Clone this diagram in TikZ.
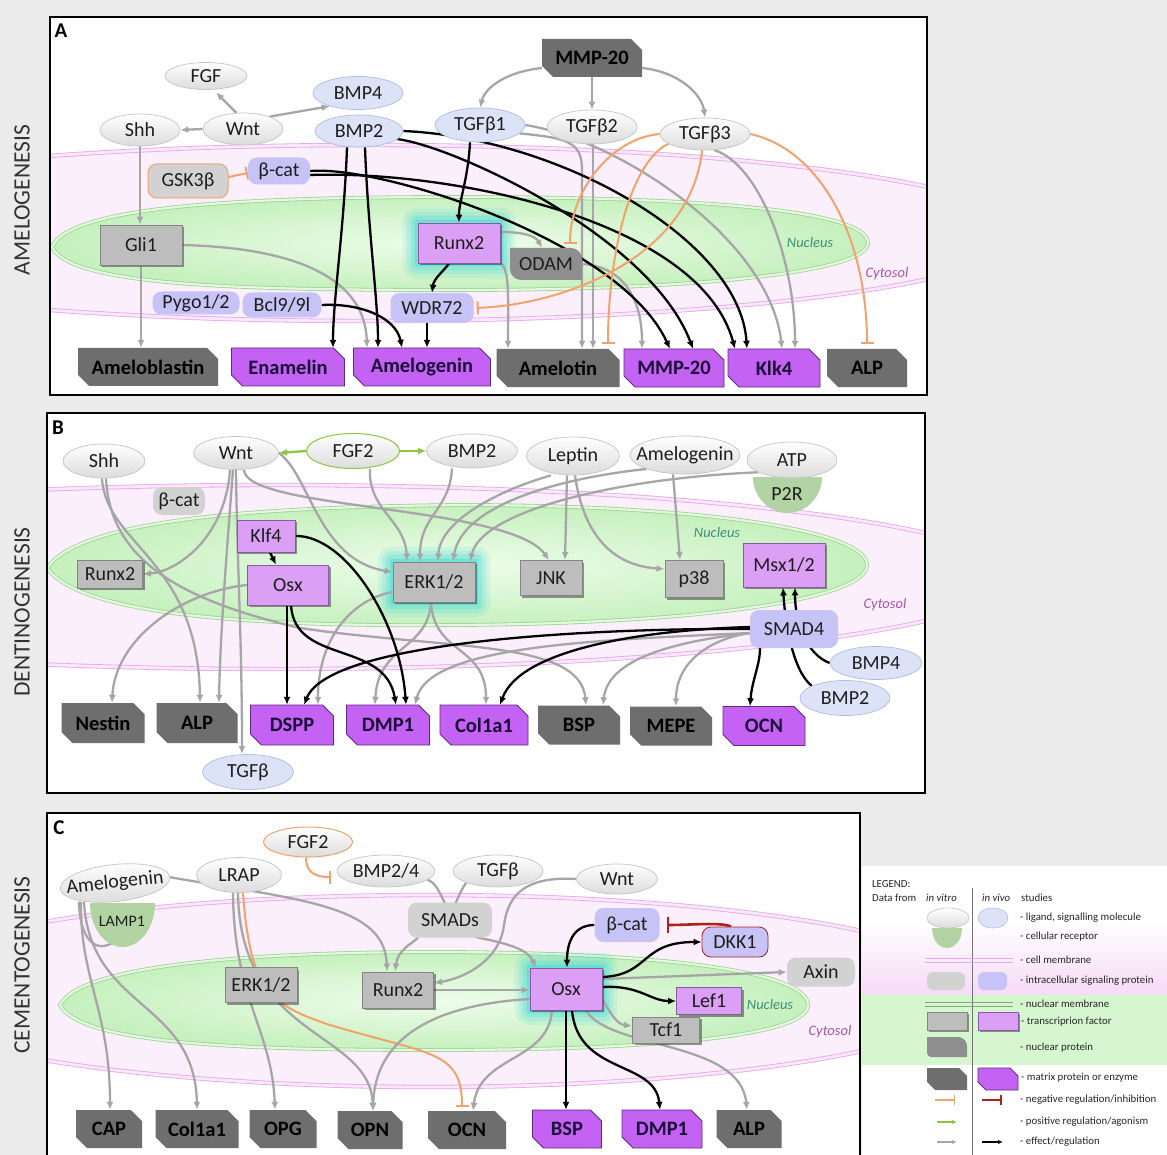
\documentclass[tikz,border=0pt]{standalone}
\usepackage{fontspec}
\setmainfont{Carlito}
\usetikzlibrary{arrows.meta,shadows,shapes.geometric}
\definecolor{bgc}{HTML}{EBEBEB}
\definecolor{txt}{HTML}{1E1E1E}
\definecolor{ligvd}{HTML}{C4C4C4}
\definecolor{ligvf}{HTML}{DCDCDC}
\definecolor{ligbd}{HTML}{AEBBE4}
\definecolor{ligbf}{HTML}{DCE3F7}
\definecolor{isgf}{HTML}{D2D2D2}
\definecolor{isbf}{HTML}{C8C3F6}
\definecolor{tfgd}{HTML}{858585}
\definecolor{tfgf}{HTML}{BDBDBD}
\definecolor{tfpd}{HTML}{8A5AA6}
\definecolor{tfpf}{HTML}{DB9FF5}
\definecolor{mxgf}{HTML}{6E6E6E}
\definecolor{mxpf}{HTML}{C462F4}
\definecolor{mxpd}{HTML}{5E2A7E}
\definecolor{mxtxt}{HTML}{1A0E38}
\definecolor{npf}{HTML}{8E8E8E}
\definecolor{recf}{HTML}{B2D3A2}
\definecolor{cgray}{HTML}{A6A6A6}
\definecolor{corange}{HTML}{F2A26C}
\definecolor{cgreen}{HTML}{8DC63F}
\definecolor{cred}{HTML}{B01E1E}
\definecolor{memline}{HTML}{E3A9EC}
\definecolor{memfill}{HTML}{FCEFFC}
\definecolor{memdbl}{HTML}{FBE6FB}
\definecolor{nucline}{HTML}{9ED494}
\definecolor{nucin}{HTML}{EEFDEB}
\definecolor{nucout}{HTML}{C6F0BE}
\definecolor{nucdbl}{HTML}{E4F8E0}
\definecolor{glowc}{HTML}{30D4D4}
\definecolor{nuctxt}{HTML}{3F8F78}
\definecolor{cyttxt}{HTML}{A455A8}
\definecolor{sidetxt}{HTML}{333333}
\definecolor{lgpink}{HTML}{F6DAF6}
\definecolor{lggreen}{HTML}{D5F6CE}

\pgfdeclarelayer{bg}\pgfdeclarelayer{glow}\pgfdeclarelayer{edges}
\pgfsetlayers{bg,glow,edges,main}

\newcommand\fnA{\fontsize{20}{22}\selectfont}
\newcommand\fnM{\fontsize{20.5}{22}\selectfont\bfseries}
\newcommand\fnL{\fontsize{10.8}{12}\selectfont}
\newcommand\fnI{\fontsize{14.5}{16}\selectfont\itshape}
\newcommand\fnS{\fontsize{16}{18}\selectfont}
\newcommand\fnSide{\fontsize{23.5}{26}\selectfont}
\newcommand\fnP{\fontsize{21}{24}\selectfont\bfseries}

\newcommand\mxshape[6]{\path[#5] (#1-#3/2,#2-#4/2) -- (#1+#3/2-#6,#2-#4/2) -- (#1+#3/2,#2-#4/2+#6) -- (#1+#3/2,#2+#4/2) -- (#1-#3/2+#6,#2+#4/2) -- (#1-#3/2,#2+#4/2-#6) -- cycle;}
\newcommand\mxg[6]{\mxshape{#2}{#3}{#4}{#5}{mxgs}{11}\node[mxlab,text=black,sz={#4}{#5}] (#1) at (#2,#3) {#6};}
\newcommand\mxp[6]{\mxshape{#2}{#3}{#4}{#5}{mxps}{11}\node[mxlab,text=mxtxt,sz={#4}{#5}] (#1) at (#2,#3) {#6};}

\tikzset{
 base/.style={inner sep=0pt, font=\fnA, text=txt},
 sz/.style 2 args={minimum width=#1pt, minimum height=#2pt},
 ligv/.style={base, ellipse, draw=ligvd, line width=0.7pt, top color=white, bottom color=ligvf},
 ligb/.style={base, ellipse, draw=ligbd, line width=0.7pt, fill=ligbf},
 isg/.style={base, rectangle, rounded corners=9pt, fill=isgf},
 isb/.style={base, rectangle, rounded corners=9pt, fill=isbf},
 tfg/.style={base, rectangle, draw=tfgd, line width=0.9pt, fill=tfgf, drop shadow={shadow xshift=2pt, shadow yshift=-2pt, opacity=0.4, fill=black}},
 tfp/.style={base, rectangle, draw=tfpd, line width=0.9pt, fill=tfpf, drop shadow={shadow xshift=2pt, shadow yshift=-2pt, opacity=0.4, fill=black}},
 mxlab/.style={inner sep=0pt, font=\fnM},
 mxgs/.style={fill=mxgf},
 mxps/.style={fill=mxpf, draw=mxpd, line width=0.8pt},
 memst/.style={fill=memfill, draw=memline, line width=0.8pt, double=memdbl, double distance=2.8pt},
 nucst/.style={inner color=nucin, outer color=nucout, draw=nucline, line width=0.8pt, double=nucdbl, double distance=2.2pt},
 g/.style={draw=cgray, line width=2.3pt, -{Latex[length=8pt,width=7pt]}},
 k/.style={draw=black, line width=2.3pt, -{Latex[length=8pt,width=7pt]}},
 gr/.style={draw=cgreen, line width=2.3pt, -{Latex[length=8pt,width=7pt]}},
 o/.style={draw=corange, line width=2pt, -{Bar[width=13pt]}},
 rd/.style={draw=cred, line width=2.6pt, -{Bar[width=16pt]}},
 lgt/.style={inner sep=0pt, font=\fnL, text=black!85, anchor=west},
 nuct/.style={inner sep=0pt, font=\fnI, text=nuctxt},
 cytt/.style={inner sep=0pt, font=\fnI, text=cyttxt},
}

\begin{document}
\begin{tikzpicture}[x=1pt,y=-1pt]
\useasboundingbox (0,0) rectangle (1167,1155);

% ================= BACKGROUND =================
\begin{pgfonlayer}{bg}
\fill[bgc] (0,0) rectangle (1167,1155);
% panel A
\fill[white] (50,17) rectangle (927,395);
\begin{scope}
\clip (50,17) rectangle (927,395);
\path[memst] (368,233) ellipse [x radius=657pt, y radius=88pt];
\path[nucst] (52,247) .. controls (70,205) and (250,197) .. (460,197) .. controls (700,197) and (868,210) .. (868,243) .. controls (868,272) and (700,290) .. (460,290) .. controls (250,290) and (70,287) .. (52,247) -- cycle;
\end{scope}
\draw[line width=1.6pt] (50,17) rectangle (927,395);
% panel B
\fill[white] (47,413) rectangle (925,793);
\begin{scope}
\clip (47,413) rectangle (925,793);
\path[memst] (275,577) ellipse [x radius=740pt, y radius=92pt];
\path[nucst] (47,568) .. controls (80,520) and (250,507) .. (460,505) .. controls (700,505) and (867,530) .. (867,565) .. controls (867,597) and (720,623) .. (460,625) .. controls (250,627) and (80,615) .. (47,568) -- cycle;
\end{scope}
\draw[line width=1.6pt] (47,413) rectangle (925,793);
% panel C
\fill[white] (47,813) rectangle (860,1170);
\begin{scope}
\clip (47,813) rectangle (860,1170);
\path[memst] (429,991) ellipse [x radius=554pt, y radius=96pt];
\path[nucst] (60,1005) .. controls (80,965) and (250,952) .. (434,952) .. controls (650,952) and (808,970) .. (808,1005) .. controls (808,1037) and (650,1050) .. (434,1050) .. controls (250,1050) and (80,1045) .. (60,1005) -- cycle;
\end{scope}
\draw[line width=1.6pt] (47,813) rectangle (860,1170);
% legend background
\fill[white] (862,866) rectangle (1167,1155);
\shade[top color=white, bottom color=lgpink] (862,922) rectangle (1167,995);
\fill[lggreen] (862,995) rectangle (1167,1065);
\end{pgfonlayer}

% ================= LABELS =================
\node[rotate=90, font=\fnSide, text=sidetxt, inner sep=0pt] (sideA) at (22,200) {AMELOGENESIS};
\node[rotate=90, font=\fnSide, text=sidetxt, inner sep=0pt] (sideB) at (22,612) {DENTINOGENESIS};
\node[rotate=90, font=\fnSide, text=sidetxt, inner sep=0pt] (sideC) at (22,965) {CEMENTOGENESIS};
\node[font=\fnP, inner sep=0pt] (labA) at (61,31) {A};
\node[font=\fnP, inner sep=0pt] (labB) at (58,428) {B};
\node[font=\fnP, inner sep=0pt] (labC) at (59,828) {C};
\node[nuct] (nucA) at (810,243) {Nucleus};
\node[cytt] (cytA) at (887,274) {Cytosol};
\node[nuct] (nucB) at (717,533) {Nucleus};
\node[cytt] (cytB) at (885,605) {Cytosol};
\node[nuct] (nucC) at (770,1005) {Nucleus};
\node[cytt] (cytC) at (830,1032) {Cytosol};

% ================= PANEL A NODES =================
\node[ligv, sz={82}{27}] (FGF) at (206,76) {FGF};
\node[ligv, sz={80}{32}] (Shh) at (140,130) {Shh};
\node[ligv, sz={80}{32}] (Wnt) at (243,129) {Wnt};
\node[ligb, sz={90}{33}] (BMP4) at (358,93) {BMP4};
\node[ligb, sz={88}{32}] (BMP2) at (359,131) {BMP2};
\node[ligb, sz={90}{34}] (TGFb1) at (480,125) {TGFβ1};
\mxg{MMP20t}{592}{58}{100}{38}{MMP-20}
\node[ligv, sz={90}{34}] (TGFb2) at (592,127) {TGFβ2};
\node[ligv, sz={90}{32}] (TGFb3) at (705,134) {TGFβ3};
\node[isb, sz={62}{27}] (bcatA) at (279,171) {β-cat};
\node[isg, sz={80}{34}, draw=corange, line width=1pt] (GSK) at (188,181) {GSK3β};
\node[tfg, sz={82}{40}] (Gli1) at (141,245) {Gli1};
\node[tfp, sz={82}{40}] (RunxA) at (459,243) {Runx2};
\path[fill=npf] (510,248) -- (571,248) .. controls (577,248) and (582,253) .. (582,259) -- (582,280) -- (521,280) .. controls (515,280) and (510,275) .. (510,269) -- cycle;
\node[base, sz={72}{32}] (ODAM) at (546,264) {ODAM};
\node[isb, sz={87}{23}] (Pygo) at (196,303) {Pygo1/2};
\node[isb, sz={79}{25}] (Bcl) at (282,305) {Bcl9/9l};
\node[isb, sz={83}{30}] (WDR72) at (432,308) {WDR72};
\mxg{Ameloblastin}{148}{367}{140}{38}{Ameloblastin}
\mxp{Enamelin}{288}{367}{113}{38}{Enamelin}
\mxp{AmelogeninA}{422}{367}{137}{38}{Amelogenin}
\mxg{Amelotin}{558}{368}{123}{38}{Amelotin}
\mxp{MMP20}{674}{368}{100}{38}{MMP-20}
\mxp{Klk4}{774}{368}{92}{38}{Klk4}
\mxg{ALPA}{867}{368}{80}{38}{ALP}

% ================= PANEL B NODES =================
\node[ligv, sz={82}{34}] (ShhB) at (104,461) {Shh};
\node[ligv, sz={85}{33}] (WntB) at (236,453) {Wnt};
\node[ligv, sz={93}{35}, draw=cgreen, line width=1pt] (FGF2B) at (353,451) {FGF2};
\node[ligv, sz={91}{34}] (BMP2B) at (472,451) {BMP2};
\node[ligv, sz={93}{38}] (Leptin) at (573,456) {Leptin};
\node[ligv, sz={110}{38}, inner xsep=-14pt] (AmelB) at (685,455) {Amelogenin};
\path[fill=recf] (753,477) -- (822,477) .. controls (822,497) and (806,513) .. (787.5,513) .. controls (769,513) and (753,497) .. (753,477) -- cycle;
\node[ligv, sz={90}{36}] (ATP) at (792,460) {ATP};
\node[base] (P2R) at (787,494) {P2R};
\node[isg, sz={52}{28}] (bcatB) at (179,501) {β-cat};
\node[tfp, sz={58}{32}] (Klf4) at (266,536) {Klf4};
\node[tfp, sz={81}{40}] (OsxB) at (288,585) {Osx};
\node[tfg, sz={65}{28}] (RunxB) at (110,574) {Runx2};
\node[tfg, sz={82}{40}] (ERKB) at (434,582) {ERK1/2};
\node[tfg, sz={62}{35}] (JNK) at (551,578) {JNK};
\node[tfg, sz={58}{37}] (p38) at (694,579) {p38};
\node[tfp, sz={82}{44}] (Msx) at (784,565) {Msx1/2};
\node[isb, sz={88}{38}] (SMAD4) at (794,629) {SMAD4};
\node[ligb, sz={92}{33}] (BMP4B) at (876,663) {BMP4};
\node[ligb, sz={90}{35}] (BMP2Bv) at (845,698) {BMP2};
\mxg{Nestin}{103}{723}{83}{40}{Nestin}
\mxg{ALPB}{197}{723}{81}{40}{ALP}
\mxp{DSPP}{292}{725}{83}{40}{DSPP}
\mxp{DMP1B}{388}{725}{83}{40}{DMP1}
\mxp{Col1a1B}{484}{725}{88}{40}{Col1a1}
\mxg{BSPB}{579}{725}{82}{39}{BSP}
\mxg{MEPE}{671}{726}{82}{39}{MEPE}
\mxp{OCNB}{764}{726}{82}{39}{OCN}
\node[ligb, sz={91}{35}] (TGFbB) at (248,772) {TGFβ};

% ================= PANEL C NODES =================
\node[ligv, sz={89}{30}, draw=corange, line width=1pt] (FGF2C) at (308,842) {FGF2};
\path[fill=recf] (90,903) -- (155,903) .. controls (155,928) and (140,947) .. (122.5,947) .. controls (105,947) and (90,928) .. (90,903) -- cycle;
\node[base, font=\fnS] (LAMP1) at (122,921) {LAMP1};
\node[ligv, sz={110}{37}, inner xsep=-14pt, rotate=6] (AmelC) at (115,883) {Amelogenin};
\node[ligv, sz={85}{35}] (LRAP) at (239,875) {LRAP};
\node[ligv, sz={98}{32}] (BMP24) at (386,871) {BMP2/4};
\node[ligv, sz={90}{32}] (TGFbC) at (498,871) {TGFβ};
\node[ligv, sz={81}{30}] (WntC) at (617,879) {Wnt};
\node[isg, sz={84}{35}] (SMADs) at (450,920) {SMADs};
\node[isb, sz={65}{34}] (bcatC) at (627,925) {β-cat};
\node[isb, sz={66}{30}, draw=cred, line width=0.8pt] (DKK1) at (735,942) {DKK1};
\node[tfg, sz={72}{35}] (ERKC) at (261,985) {ERK1/2};
\node[tfg, sz={71}{36}] (RunxC) at (398,990) {Runx2};
\node[tfp, sz={72}{42}] (OsxC) at (566,989) {Osx};
\node[isg, sz={68}{29}] (Axin) at (821,972) {Axin};
\node[tfp, sz={65}{27}] (Lef1) at (709,1001) {Lef1};
\node[tfg, sz={67}{26}] (Tcf1) at (666,1030) {Tcf1};
\mxg{CAP}{109}{1129}{66}{38}{CAP}
\mxg{Col1a1C}{197}{1129}{83}{38}{Col1a1}
\mxg{OPG}{283}{1129}{67}{38}{OPG}
\mxg{OPN}{370}{1130}{65}{38}{OPN}
\mxg{OCNC}{467}{1130}{78}{38}{OCN}
\mxp{BSPC}{567}{1129}{69}{38}{BSP}
\mxp{DMP1C}{662}{1129}{80}{38}{DMP1}
\mxg{ALPC}{749}{1129}{65}{38}{ALP}

% ================= GLOW =================
\begin{pgfonlayer}{glow}
\foreach \nn in {RunxA,ERKB,OsxC}{
 \foreach \s/\op in {15/0.12,11/0.16,7/0.22,3/0.35}{
  \fill[glowc, opacity=\op, rounded corners=\s pt] ([shift={(-\s pt,-\s pt)}]\nn.south west) rectangle ([shift={(\s pt,\s pt)}]\nn.north east);
 }}
\end{pgfonlayer}

% ================= EDGES =================
\begin{pgfonlayer}{edges}
% ---- panel A gray
\draw[g, shorten >=4pt] (Wnt.112) -- (FGF.-62);
\draw[g] (Wnt.west) -- (Shh.east);
\draw[g] (Wnt.25) -- (BMP4.205);
\draw[g] ([yshift=-10pt]MMP20t.west) .. controls (505,72) and (485,88) .. (TGFb1.north);
\draw[g] (MMP20t.south) -- (TGFb2.north);
\draw[g] ([yshift=-10pt]MMP20t.east) .. controls (680,72) and (702,95) .. (TGFb3.north);
\draw[g] (Shh.south) -- (Shh.south |- Gli1.north);
\draw[g] (Gli1.south) -- (Gli1.south |- Ameloblastin.north);
\draw[g] (Gli1.east) .. controls (300,248) and (365,280) .. ([xshift=-55pt]AmelogeninA.north);
\draw[g] (RunxA.15) .. controls (520,232) and (535,235) .. ([xshift=-4pt]ODAM.north);
\draw[g] (RunxA.-25) .. controls (510,270) and (508,300) .. ([xshift=-50pt]Amelotin.north);
\draw[g] (TGFb1.-12) .. controls (568,138) and (582,142) .. (582,170) -- ([xshift=24pt]Amelotin.north);
\draw[g] ([xshift=1pt]TGFb2.south) -- ([xshift=35pt]Amelotin.north);
\draw[g] (ODAM.east) .. controls (620,266) and (642,295) .. ([xshift=-32pt]MMP20.north);
\draw[g] (TGFb1.east) .. controls (620,140) and (770,240) .. ([xshift=8pt]Klk4.north);
\draw[g] (TGFb3.-60) .. controls (760,165) and (795,260) .. ([xshift=21pt]Klk4.north);
% ---- panel A black
\draw[k] ([xshift=-12pt]BMP2.south) .. controls (344,230) and (333,300) .. ([xshift=45pt]Enamelin.north);
\draw[k] ([xshift=6pt]BMP2.south) .. controls (368,230) and (378,300) .. ([xshift=-44pt]AmelogeninA.north);
\draw[k] (BMP2.east) .. controls (560,138) and (740,240) .. ([xshift=-27pt]Klk4.north);
\draw[k] (BMP2.-12) .. controls (450,145) and (650,235) .. ([xshift=19pt]MMP20.north);
\draw[k] (bcatA.east) .. controls (380,165) and (620,240) .. ([xshift=-4pt]MMP20.north);
\draw[k] ([yshift=-4pt]bcatA.east) .. controls (450,170) and (700,220) .. ([xshift=-39pt]Klk4.north);
\draw[k] ([xshift=-10pt]TGFb1.south) .. controls (468,180) and (459,200) .. (RunxA.north);
\draw[k] ([xshift=-10pt]RunxA.south) .. controls (443,272) and (434,278) .. (WDR72.north);
\draw[k] ([xshift=-5pt]WDR72.south) -- ([xshift=5pt]AmelogeninA.north);
\draw[k] (Bcl.east) .. controls (362,303) and (396,318) .. ([xshift=-20pt]AmelogeninA.north);
% ---- panel A orange
\draw[o] ([yshift=4pt]GSK.east) -- ([yshift=-2pt]bcatA.west);
\draw[o, shorten >=4pt] (TGFb3.west) .. controls (612,138) and (570,190) .. ([xshift=24pt]ODAM.north);
\draw[o, shorten >=5pt] (TGFb3.195) .. controls (632,160) and (608,250) .. ([xshift=50pt]Amelotin.north);
\draw[o, shorten >=3pt] (TGFb3.-100) .. controls (690,260) and (560,305) .. (WDR72.east);
\draw[o, shorten >=5pt] (TGFb3.east) .. controls (822,150) and (867,240) .. (ALPA.north);

% ---- panel B green
\draw[gr] (FGF2B.west) -- (WntB.east);
\draw[gr] (FGF2B.east) -- (BMP2B.west);
% ---- panel B gray
\draw[g] ([xshift=-2pt]ShhB.south) .. controls (106,545) and (198,560) .. ([xshift=3pt]ALPB.north);
\draw[g] ([xshift=2pt]ShhB.south) .. controls (110,560) and (180,600) .. (300,628) .. controls (450,650) and (580,640) .. ([xshift=7pt]BSPB.north);
\draw[g] ([xshift=-6pt]WntB.south) .. controls (225,540) and (175,572) .. (RunxB.east);
\draw[g] ([xshift=-3pt]WntB.south) .. controls (226,560) and (220,640) .. ([xshift=22pt]ALPB.north);
\draw[g] (WntB.south) .. controls (237,560) and (242,640) .. ([xshift=-6pt]TGFbB.north);
\draw[g] (WntB.east) .. controls (310,475) and (318,560) .. ([yshift=10pt]ERKB.west);
\draw[g] ([xshift=8pt]WntB.south) .. controls (245,510) and (510,505) .. ([xshift=-2pt]JNK.north);
\draw[g] ([xshift=17pt]FGF2B.south) .. controls (368,510) and (405,520) .. ([xshift=-27pt]ERKB.north);
\draw[g] ([xshift=-20pt]BMP2B.south) .. controls (450,510) and (420,515) .. ([xshift=-14pt]ERKB.north);
\draw[g] ([xshift=-22pt]Leptin.south) .. controls (500,490) and (440,520) .. ([xshift=4pt]ERKB.north);
\draw[g] (AmelB.200) .. controls (560,478) and (462,505) .. ([xshift=19pt]ERKB.north);
\draw[g] (ATP.200) .. controls (620,478) and (482,510) .. ([xshift=36pt]ERKB.north);
\draw[g] ([xshift=-6pt]Leptin.south) -- ([xshift=14pt]JNK.north);
\draw[g] ([xshift=2pt]Leptin.south) .. controls (582,525) and (605,565) .. ([yshift=10pt]p38.west);
\draw[g] ([xshift=-12pt]AmelB.south) -- ([xshift=-14pt]p38.north);
\draw[g] (OsxB.west) .. controls (180,592) and (115,640) .. ([xshift=9pt]Nestin.north);
\draw[g] ([yshift=-10pt]ERKB.west) .. controls (350,600) and (318,640) .. ([xshift=26pt]DSPP.north);
\draw[g] ([xshift=-3pt]ERKB.south) .. controls (428,650) and (378,645) .. ([xshift=-13pt]DMP1B.north);
\draw[g] ([xshift=-3pt]ERKB.south) .. controls (434,655) and (486,645) .. ([xshift=2pt]Col1a1B.north);
\draw[g] ([yshift=-4pt]SMAD4.west) .. controls (600,640) and (430,645) .. ([xshift=27pt]DMP1B.north);
\draw[g] ([yshift=-4pt]SMAD4.west) .. controls (670,642) and (608,660) .. ([xshift=24pt]BSPB.north);
\draw[g] ([yshift=-4pt]SMAD4.west) .. controls (705,640) and (676,665) .. ([xshift=5pt]MEPE.north);
% ---- panel B black
\draw[k] ([xshift=4pt]Klf4.south) -- ([xshift=-12pt]OsxB.north);
\draw[k] (Klf4.east) .. controls (345,535) and (400,620) .. ([xshift=18pt]DMP1B.north);
\draw[k] ([xshift=-1pt]OsxB.south) -- ([xshift=-5pt]DSPP.north);
\draw[k] ([xshift=3pt]OsxB.south) .. controls (295,665) and (385,640) .. ([xshift=8pt]DMP1B.north);
\draw[k] (SMAD4.west) .. controls (600,628) and (330,640) .. ([xshift=12pt]DSPP.north);
\draw[k] ([yshift=2pt]SMAD4.west) .. controls (640,630) and (520,650) .. ([xshift=16pt]Col1a1B.north);
\draw[k] ([xshift=-34pt]SMAD4.south) .. controls (760,665) and (752,680) .. ([xshift=-14pt]OCNB.north);
\draw[k] (BMP4B.west) .. controls (808,655) and (795,625) .. ([xshift=11pt]Msx.south);
\draw[k] (BMP2Bv.160) .. controls (792,670) and (785,620) .. ([xshift=-1pt]Msx.south);

% ---- panel C
\draw[o, shorten >=6pt] ([xshift=-2pt]FGF2C.south) .. controls (306,870) and (312,877) .. ([yshift=-6pt]BMP24.west);
\draw[g] ([xshift=-38pt]AmelC.south) .. controls (80,945) and (100,955) .. ([shift={(1pt,-13pt)}]LAMP1.center);
\draw[g] ([xshift=-36pt]AmelC.south) .. controls (80,980) and (110,1010) .. ([xshift=1pt]CAP.north);
\draw[g] ([xshift=-33pt]AmelC.south) .. controls (90,1010) and (195,1000) .. (Col1a1C.north);
\draw[g] (AmelC.east) .. controls (300,900) and (385,905) .. ([xshift=-11pt]RunxC.north);
\draw[g] ([xshift=-6pt]LRAP.south) .. controls (234,1000) and (272,1030) .. ([xshift=-8pt]OPG.north);
\draw[g] ([xshift=-1pt]LRAP.south) .. controls (240,1040) and (370,1030) .. ([xshift=3pt]OPN.north);
\draw[o, shorten >=4pt] ([xshift=4pt]LRAP.south) .. controls (250,990) and (270,1005) .. (330,1025) .. controls (430,1055) and (462,1050) .. ([xshift=-5pt]OCNC.north);
\draw[g] (BMP24.-12) .. controls (445,885) and (445,930) .. (480,938) .. controls (510,944) and (528,950) .. ([xshift=-30pt]OsxC.north);
\draw[g, -] (TGFbC.200) .. controls (458,895) and (455,905) .. (SMADs.center);
\draw[g] ([xshift=-32pt]SMADs.south) .. controls (410,945) and (398,950) .. ([xshift=-3pt]RunxC.north);
\draw[g] (WntC.west) .. controls (525,876) and (508,895) .. (504,925) .. controls (500,960) and (465,978) .. ([yshift=7pt]RunxC.east);
\draw[g] (RunxC.east) -- (RunxC.east -| OsxC.west);
\draw[g] ([yshift=10pt]OsxC.east) -- (Axin.west);
\draw[g] ([yshift=-10pt]OsxC.east) .. controls (610,1012) and (616,1024) .. ([yshift=4pt]Tcf1.west);
\draw[g] ([xshift=20pt]OsxC.south) .. controls (610,1050) and (740,1040) .. ([xshift=-2pt]ALPC.north);
\draw[g] ([xshift=-14pt]OsxC.south) .. controls (548,1062) and (480,1055) .. ([xshift=6pt]OCNC.north);
\draw[g] ([yshift=-10pt]OsxC.west) .. controls (430,1005) and (375,1040) .. ([xshift=3pt]OPN.north);
\draw[k] (bcatC.west) .. controls (572,925) and (567,945) .. ([xshift=1pt]OsxC.north);
\draw[k] ([yshift=12pt]OsxC.east) .. controls (650,975) and (640,942) .. (DKK1.west);
\draw[k] ([yshift=2pt]OsxC.east) .. controls (640,985) and (650,1001) .. (Lef1.west);
\draw[k] (OsxC.south) -- (OsxC.south |- BSPC.north);
\draw[k] ([xshift=6pt]OsxC.south) .. controls (578,1075) and (655,1060) .. ([xshift=-2pt]DMP1C.north);
\draw[rd, shorten >=7pt] ([xshift=-4pt]DKK1.north) .. controls (722,922) and (690,925) .. (bcatC.east);
\end{pgfonlayer}

% ================= LEGEND =================
\node[lgt] (lg0) at (872,884) {LEGEND:};
\node[lgt] (lg1) at (872,898) {Data from};
\node[lgt, font=\fnL\itshape] (lg2) at (926,898) {in vitro};
\node[lgt, font=\fnL\itshape] (lg3) at (982,898) {in vivo};
\node[lgt] (lg4) at (1021,898) {studies};
\draw[black!55, line width=0.6pt] (972,888) -- (972,1155);
\path[draw=ligvd, line width=0.6pt, top color=white, bottom color=ligvf] (948,918) ellipse [x radius=21pt, y radius=10pt];
\path[draw=ligbd, line width=0.6pt, fill=ligbf] (993,918) ellipse [x radius=15pt, y radius=10pt];
\node[lgt] (lg5) at (1020,918) {- ligand, signalling molecule};
\path[fill=recf] (932,928) -- (962,928) .. controls (962,940) and (955,948) .. (947,948) .. controls (939,948) and (932,940) .. (932,928) -- cycle;
\node[lgt] (lg6) at (1020,937) {- cellular receptor};
\draw[memline, line width=0.9pt] (925,958) -- (1013,958) (925,962) -- (1013,962);
\node[lgt] (lg7) at (1020,960) {- cell membrane};
\fill[isgf, rounded corners=6pt] (927,972) rectangle (965,990);
\fill[isbf, rounded corners=6pt] (978,972) rectangle (1007,990);
\node[lgt] (lg8) at (1020,981) {- intracellular signaling protein};
\draw[nucline!80!black, line width=0.9pt] (925,1002) -- (1013,1002) (925,1006) -- (1013,1006);
\node[lgt] (lg9) at (1020,1004) {- nuclear membrane};
\path[fill=tfgf, draw=tfgd, line width=0.7pt, drop shadow={shadow xshift=1.5pt, shadow yshift=-1.5pt, opacity=0.4, fill=black}] (927,1012) rectangle (967,1030);
\path[fill=tfpf, draw=tfpd, line width=0.7pt, drop shadow={shadow xshift=1.5pt, shadow yshift=-1.5pt, opacity=0.4, fill=black}] (978,1012) rectangle (1018,1030);
\node[lgt] (lg10) at (1021,1022) {- transcriprion factor};
\path[fill=npf] (927,1037) -- (958,1037) .. controls (963,1037) and (967,1041) .. (967,1046) -- (967,1057) -- (931,1057) .. controls (929,1057) and (927,1055) .. (927,1053) -- cycle;
\node[lgt] (lg11) at (1020,1048) {- nuclear protein};
\mxshape{947}{1079}{40}{22}{mxgs}{8}
\mxshape{998}{1079}{40}{22}{mxps}{8}
\node[lgt] (lg12) at (1021,1078) {- matrix protein or enzyme};
\draw[corange, line width=1.5pt, -{Bar[width=10pt]}] (935,1100) -- (955,1100);
\draw[cred, line width=1.8pt, -{Bar[width=10pt]}] (982,1100) -- (1002,1100);
\node[lgt] (lg13) at (1020,1100) {- negative regulation/inhibition};
\draw[cgreen, line width=1.5pt, -{Latex[length=5pt,width=4.5pt]}] (937,1122) -- (957,1122);
\node[lgt] (lg14) at (1020,1122) {- positive regulation/agonism};
\draw[cgray, line width=1.5pt, -{Latex[length=5pt,width=4.5pt]}] (937,1142) -- (957,1142);
\draw[black, line width=1.8pt, -{Latex[length=5pt,width=4.5pt]}] (982,1142) -- (1003,1142);
\node[lgt] (lg15) at (1020,1142) {- effect/regulation};
\end{tikzpicture}
\end{document}
